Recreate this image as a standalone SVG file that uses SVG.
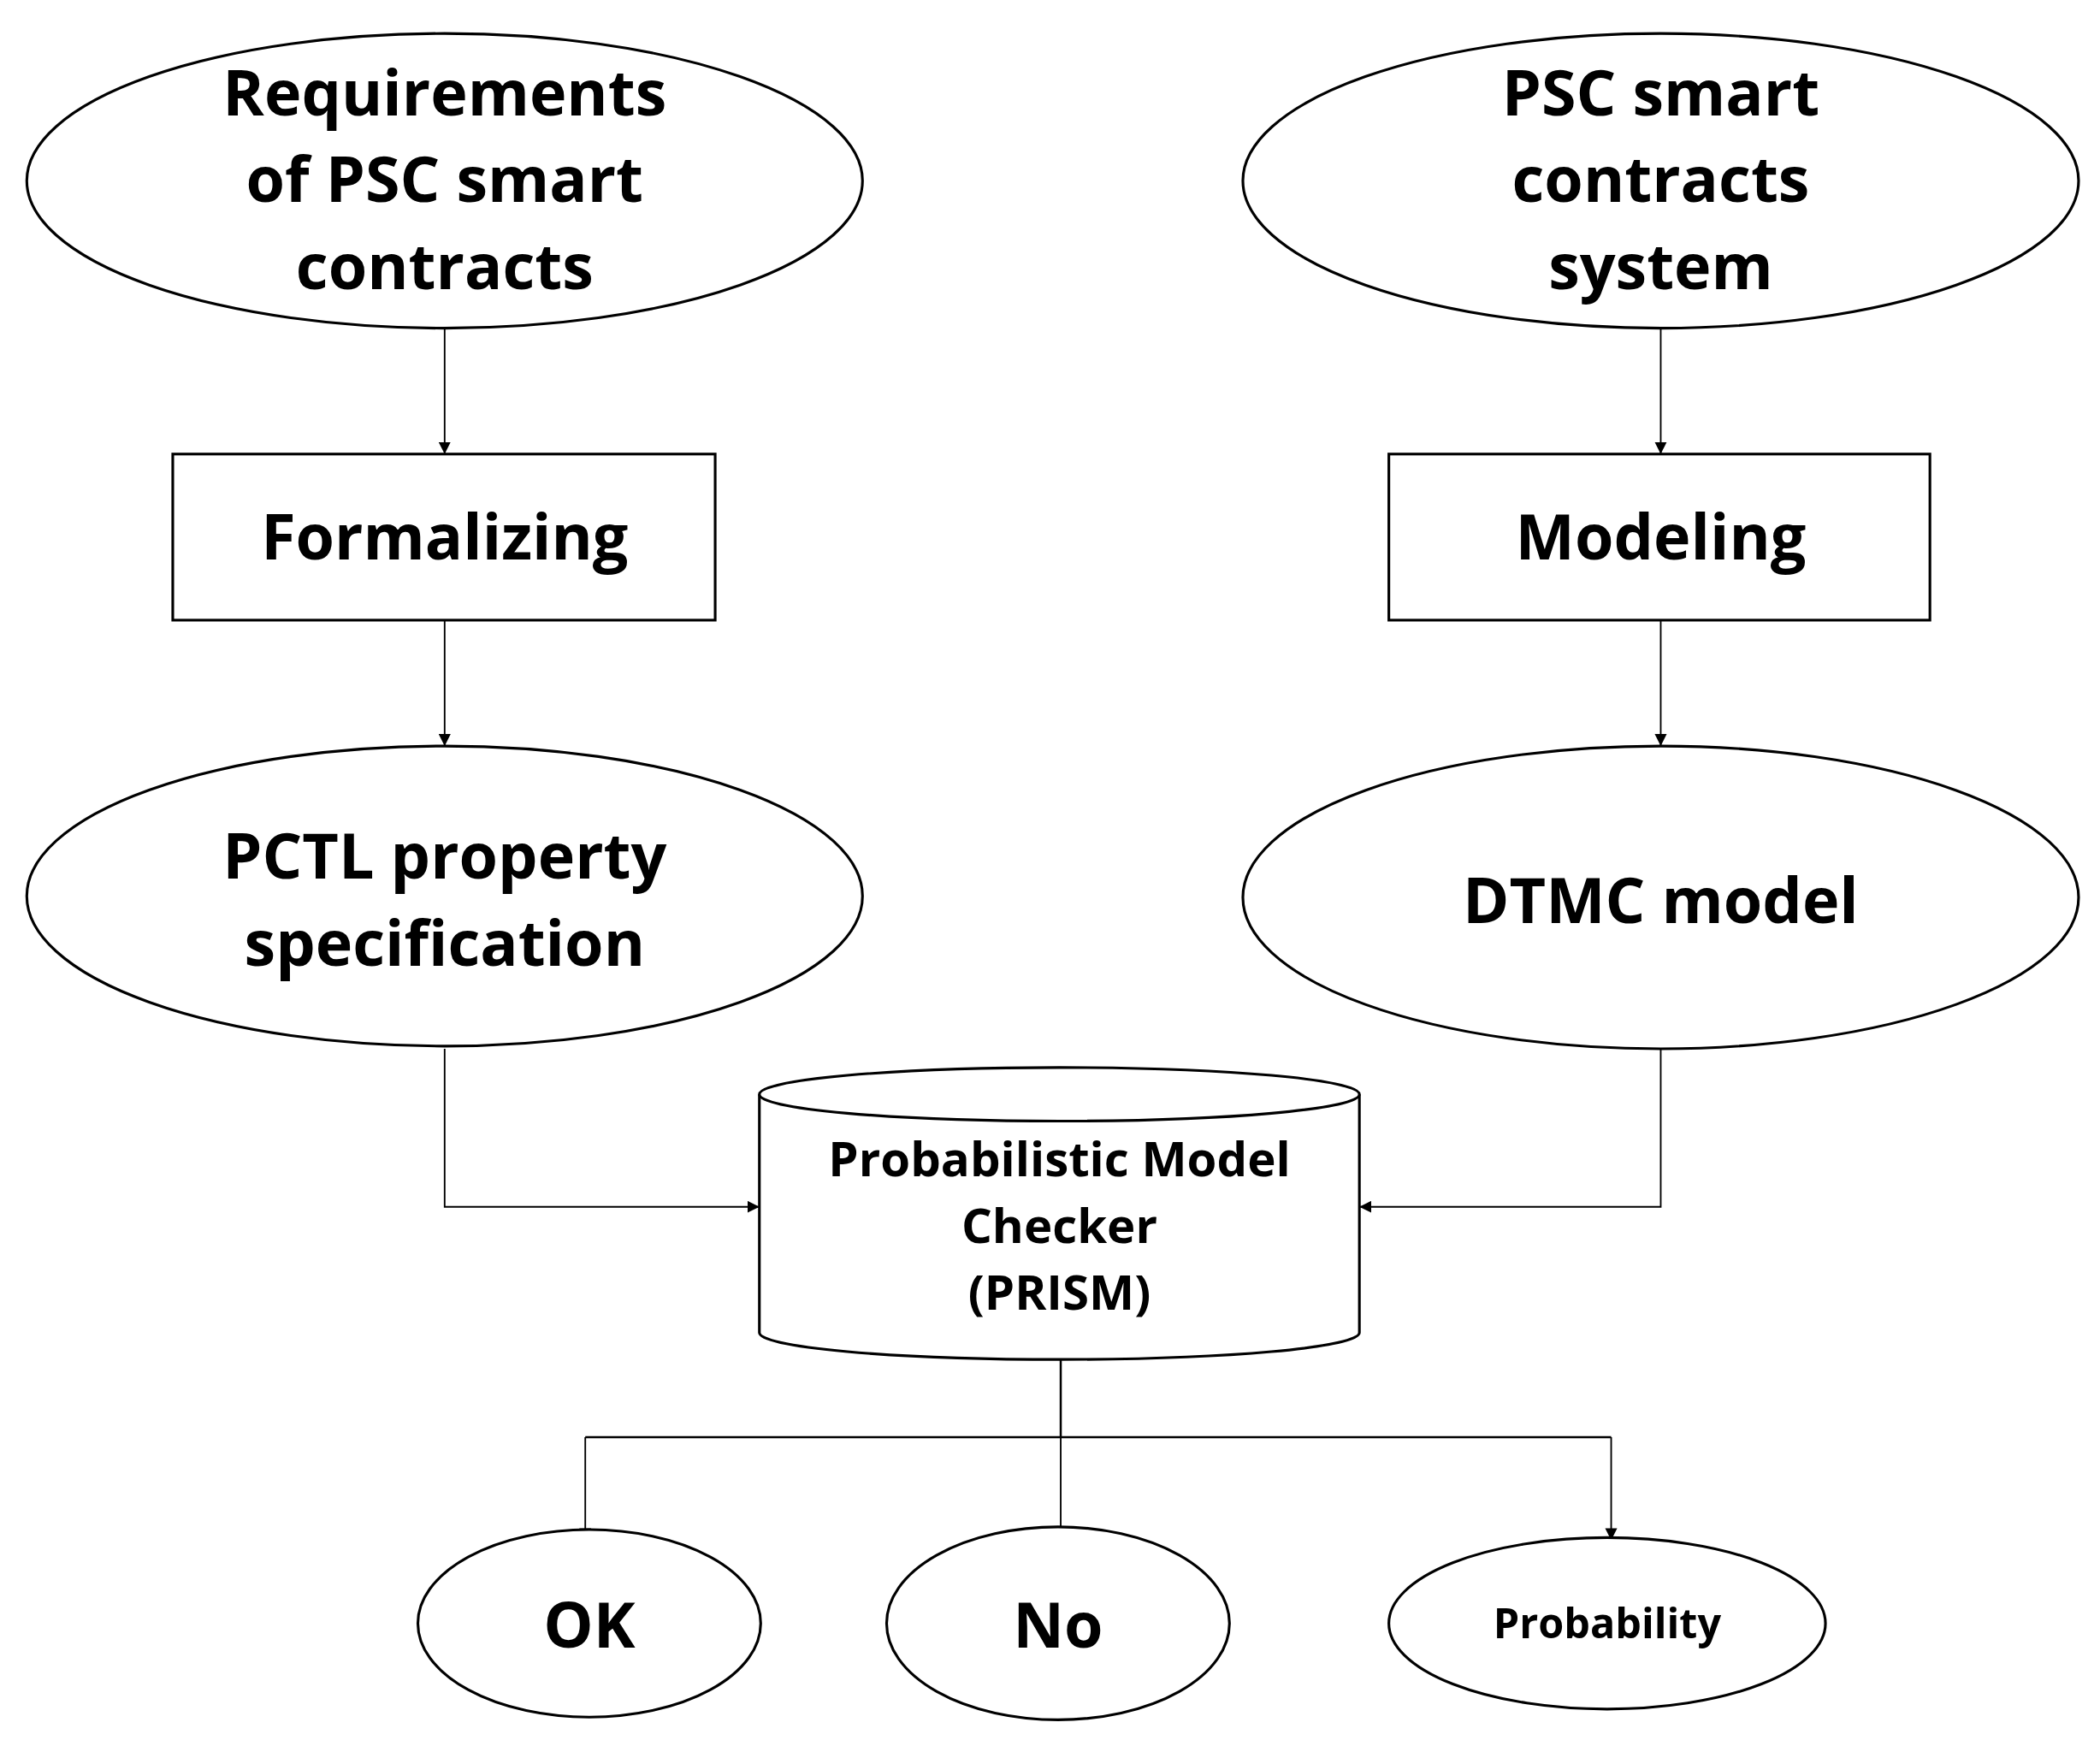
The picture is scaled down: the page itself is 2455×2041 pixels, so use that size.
<svg xmlns="http://www.w3.org/2000/svg" width="2455" height="2041" viewBox="0 0 2455 2041">
<defs>
<marker id="ah" viewBox="0 0 10 10" refX="10" refY="5" markerWidth="9" markerHeight="9" markerUnits="userSpaceOnUse" orient="auto"><path d="M0,0 L10,5 L0,10 z" fill="#000"/></marker>
<style>
.s{fill:#fff;stroke:#000;stroke-width:2}
.c{fill:none;stroke:#000;stroke-width:1.2;marker-end:url(#ah)}
.l{fill:none;stroke:#000;stroke-width:1.2}
text{font-family:"Open Sans","Liberation Sans",sans-serif;font-weight:bold;text-anchor:middle;fill:#000}
.b{font-size:47px}
.m{font-size:36px}
.p{font-size:31px}
</style>
</defs>
<rect width="2455" height="2041" fill="#fff"/>
<g transform="scale(1.5657)">
<g id="connectors">
<path class="c" d="M332,245 V339"/>
<path class="c" d="M332,463 V557"/>
<path class="c" d="M1240,245 V339"/>
<path class="c" d="M1240,463 V557"/>
<path class="c" d="M332,783 V901 H567"/>
<path class="c" d="M1240,783 V901 H1015"/>
<path class="l" d="M792,1015 V1073 M437,1073 H1203" style="stroke-width:1.6"/>
<path class="c" d="M437,1073 V1150"/>
<path class="c" d="M792,1073 V1150"/>
<path class="c" d="M1203,1073 V1150"/>
</g>
<g id="req"><ellipse class="s" cx="332" cy="135" rx="312" ry="110"/><text class="b" x="332" y="86">Requirements</text><text class="b" x="332" y="151">of PSC smart</text><text class="b" x="332" y="216">contracts</text></g>
<g id="sys"><ellipse class="s" cx="1240" cy="135" rx="312" ry="110"/><text class="b" x="1240" y="86">PSC smart</text><text class="b" x="1240" y="151">contracts</text><text class="b" x="1240" y="216">system</text></g>
<g id="formalizing"><rect class="s" x="129" y="339" width="405" height="124"/><text class="b" x="332" y="418">Formalizing</text></g>
<g id="modeling"><rect class="s" x="1037" y="339" width="404" height="124"/><text class="b" x="1240" y="418">Modeling</text></g>
<g id="pctl"><ellipse class="s" cx="332" cy="669" rx="312" ry="112"/><text class="b" x="332" y="656">PCTL property</text><text class="b" x="332" y="721">specification</text></g>
<g id="dtmc"><ellipse class="s" cx="1240" cy="670" rx="312" ry="113"/><text class="b" x="1240" y="689">DTMC model</text></g>
<g id="prism"><path class="s" d="M567,817 V995 A224,20 0 0 0 1015,995 V817"/><ellipse class="s" cx="791" cy="817" rx="224" ry="20"/><text class="m" x="791" y="878">Probabilistic Model</text><text class="m" x="791" y="928">Checker</text><text class="m" x="791" y="978">(PRISM)</text></g>
<g id="ok"><ellipse class="s" cx="440" cy="1212" rx="128" ry="70"/><text class="b" x="440" y="1230">OK</text></g>
<g id="no"><ellipse class="s" cx="790" cy="1212" rx="128" ry="72"/><text class="b" x="790" y="1230">No</text></g>
<g id="prob"><ellipse class="s" cx="1200" cy="1212" rx="163" ry="64"/><text class="p" x="1200" y="1223">Probability</text></g>
</g>
</svg>
